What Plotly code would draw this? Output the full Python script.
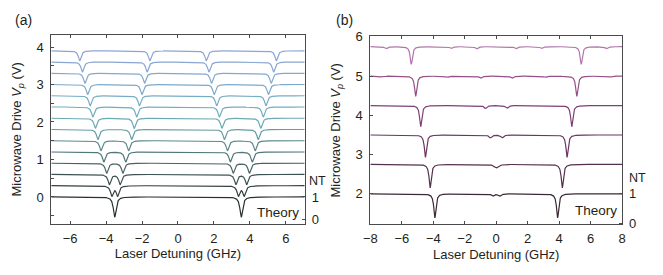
import numpy as np
import plotly.graph_objects as go

# ---------------- data ----------------
# Panel (a): microwave drive voltages (trace offsets) and half splitting of each dip pair (GHz)
A_VOLTS = [0.0, 0.3, 0.6, 0.9, 1.2, 1.5, 1.8, 2.1, 2.4, 2.7, 3.0, 3.3, 3.6, 3.9]
A_HALF_SPLIT = [0.0, 0.16, 0.30, 0.45, 0.61, 0.77, 0.94, 1.08, 1.22, 1.37, 1.51, 1.66, 1.80, 1.95]
A_CENTER = 3.52          # GHz, unsplit resonance positions (+/-)
A_DEPTH = 0.45           # transmission dip depth of each split component
A_WIDTH = 0.09           # GHz, Lorentzian half width
A_SCALE = 0.6            # V per unit normalised transmission
A_COLORS = ["#283032", "#33403f", "#3d5152", "#486365", "#527679", "#5c8a8f",
            "#659ca3", "#6ba9b3", "#71adbe", "#77acc5", "#7daaca", "#83a8ce",
            "#89a6d2", "#8ea4d6"]

# Panel (b)
B_VOLTS = [2.0, 2.75, 3.5, 4.25, 5.0, 5.75]
B_MAIN_POS = [3.9, 4.2, 4.5, 4.8, 5.12, 5.4]
B_MAIN_DEPTH = [0.82, 0.80, 0.76, 0.72, 0.69, 0.60]
B_SIDE_POS = [[0.22], [0.0], [0.37], [0.68], [1.0, 3.12, 7.3], [1.25, 2.87, 7.0]]
B_SIDE_DEPTH = [[0.08], [0.12], [0.10], [0.10], [0.08, 0.04, 0.03], [0.08, 0.065, 0.075]]
B_WIDTH = 0.08
B_SIDE_WIDTH = 0.10
B_SCALE = 0.75
B_COLORS = ["#3b2936", "#55304c", "#6a3560", "#7e4074", "#955089", "#b076aa"]

A_XTICKS = [-6, -4, -2, 0, 2, 4, 6]
B_XTICKS = [-8, -6, -4, -2, 0, 2, 4, 6, 8]


def lorentz(x, c, d, g):
    return d / (1.0 + ((x - c) / g) ** 2)


FONT = "Liberation Sans, Arial, sans-serif"
TXT = "#231f20"
AX = "#4a4a4a"

fig = go.Figure()

# ---- panel (a)
xa = np.linspace(-7.05, 7.05, 3001)
for v, h, col in zip(A_VOLTS, A_HALF_SPLIT, A_COLORS):
    t = np.ones_like(xa)
    for c in (-A_CENTER, A_CENTER):
        t -= lorentz(xa, c - h, A_DEPTH, A_WIDTH)
        t -= lorentz(xa, c + h, A_DEPTH, A_WIDTH)
    fig.add_trace(go.Scatter(x=xa, y=v + A_SCALE * (t - 1), mode="lines",
                             line=dict(color=col, width=1.2), xaxis="x", yaxis="y",
                             showlegend=False, hoverinfo="skip"))

# ---- panel (b)
xb = np.linspace(-8, 8, 3201)
for v, mp, md, sp, sd, col in zip(B_VOLTS, B_MAIN_POS, B_MAIN_DEPTH, B_SIDE_POS, B_SIDE_DEPTH, B_COLORS):
    t = np.ones_like(xb)
    t -= lorentz(xb, -mp, md, B_WIDTH) + lorentz(xb, mp, md, B_WIDTH)
    for p, d in zip(sp, sd):
        if p == 0:
            t -= lorentz(xb, 0.0, d, B_SIDE_WIDTH * 1.5)
        else:
            t -= lorentz(xb, -p, d, B_SIDE_WIDTH) + lorentz(xb, p, d, B_SIDE_WIDTH)
    fig.add_trace(go.Scatter(x=xb, y=v + B_SCALE * (t - 1), mode="lines",
                             line=dict(color=col, width=1.2), xaxis="x2", yaxis="y3",
                             showlegend=False, hoverinfo="skip"))

# invisible traces to activate right-hand NT axes
fig.add_trace(go.Scatter(x=[0], y=[0.5], xaxis="x", yaxis="y2", mode="lines",
                         line=dict(width=0), showlegend=False, hoverinfo="skip"))
fig.add_trace(go.Scatter(x=[0], y=[0.5], xaxis="x2", yaxis="y4", mode="lines",
                         line=dict(width=0), showlegend=False, hoverinfo="skip"))

tickfont = dict(family=FONT, size=13, color=TXT)
titlefont = dict(family=FONT, size=13, color=TXT)

a_ylo, a_yhi = -0.72, 4.33
b_ylo, b_yhi = 1.22, 6.02

common_x = dict(showline=True, linecolor=AX, linewidth=1, mirror="ticks", ticks="inside",
                ticklen=3, tickcolor=AX, showgrid=False, zeroline=False, tickfont=tickfont,
                ticklabelstandoff=2)
common_y = dict(showline=True, linecolor=AX, linewidth=1, mirror=True, ticks="inside",
                ticklen=3, tickcolor=AX, showgrid=False, zeroline=False, tickfont=tickfont,
                ticklabelstandoff=4)
right_y = dict(ticks="inside", ticklen=3, tickcolor=AX, showline=False, showgrid=False,
               zeroline=False, tickfont=tickfont, ticklabelstandoff=6)

ann_font = dict(family=FONT, size=14, color=TXT)

fig.update_layout(
    width=663, height=275, margin=dict(l=0, r=0, t=0, b=0),
    paper_bgcolor="white", plot_bgcolor="white",
    xaxis=dict(domain=[0.0679, 0.4566], range=[-7.05, 7.05], tickvals=A_XTICKS,
               anchor="y", title=dict(text="Laser Detuning (GHz)", font=titlefont, standoff=4),
               **common_x),
    yaxis=dict(domain=[0.172, 0.8945], range=[a_ylo, a_yhi], tick0=0, dtick=1, anchor="x",
               minor=dict(dtick=0.5, tick0=0, ticks="inside", ticklen=3, tickcolor=AX),
               title=dict(text="Microwave Drive <i>V<sub>p</sub></i> (V)", font=titlefont, standoff=11),
               **common_y),
    yaxis2=dict(overlaying="y", anchor="x", side="right",
                range=[1 + a_ylo / A_SCALE, 1 + a_yhi / A_SCALE], tickvals=[0, 1], **right_y),
    xaxis2=dict(domain=[0.5573, 0.9434], range=[-8, 8], tickvals=B_XTICKS,
                anchor="y3", title=dict(text="Laser Detuning (GHz)", font=titlefont, standoff=4),
                **common_x),
    yaxis3=dict(domain=[0.170, 0.889], range=[b_ylo, b_yhi], tick0=0, dtick=1, anchor="x2",
                title=dict(text="Microwave Drive <i>V<sub>p</sub></i> (V)", font=titlefont, standoff=11),
                **common_y),
    yaxis4=dict(overlaying="y3", anchor="x2", side="right",
                range=[1 + (b_ylo - 2) / B_SCALE, 1 + (b_yhi - 2) / B_SCALE], tickvals=[0, 1],
                **right_y),
    annotations=[
        dict(text="(a)", x=16.5 / 663, y=1 - 14 / 275, xref="paper", yref="paper",
             xanchor="center", yanchor="middle", showarrow=False, font=ann_font),
        dict(text="(b)", x=343 / 663, y=1 - 14 / 275, xref="paper", yref="paper",
             xanchor="center", yanchor="middle", showarrow=False, font=ann_font),
        dict(text="Theory", x=5.56, y=-0.42, xref="x", yref="y", showarrow=False,
             xanchor="center", yanchor="middle", font=dict(family=FONT, size=13.5, color=TXT)),
        dict(text="Theory", x=6.33, y=1.58, xref="x2", yref="y3", showarrow=False,
             xanchor="center", yanchor="middle", font=dict(family=FONT, size=13.5, color=TXT)),
        dict(text="NT", x=316 / 663, y=1.73, xref="paper", yref="y2", showarrow=False,
             xanchor="center", yanchor="middle", font=dict(family=FONT, size=12.5, color=TXT)),
        dict(text="NT", x=641.5 / 663, y=1.54, xref="paper", yref="y4", showarrow=False,
             xanchor="center", yanchor="middle", font=dict(family=FONT, size=12.5, color=TXT)),
    ],
)

# remove the browser's default 8px body margin so the figure sits at the page origin
fig.write_html("out.html", config={"displayModeBar": False},
               post_script="document.body.style.margin='0px';")
